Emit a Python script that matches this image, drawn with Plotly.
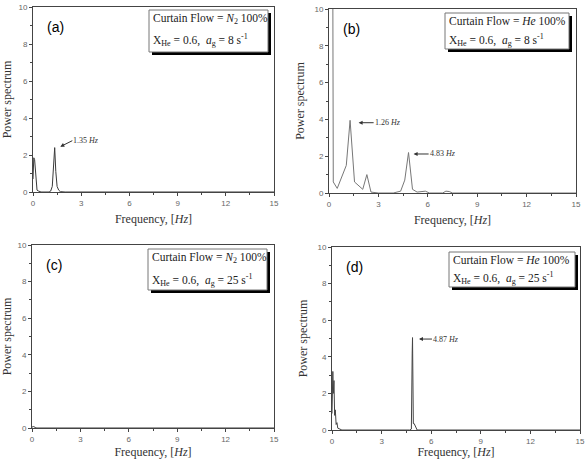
import plotly.graph_objects as go

W, H = 587, 459

# ---- data ----
a_freq = [0.0, 0.05, 0.1, 0.15, 0.2, 0.25, 0.35, 0.5, 1.0, 1.1, 1.2, 1.28, 1.35, 1.42, 1.5, 1.6, 1.7, 2.0, 15.0]
a_power = [0.7, 1.85, 1.75, 1.2, 0.5, 0.1, 0.05, 0.0, 0.0, 0.05, 0.3, 1.2, 2.4, 1.1, 0.3, 0.1, 0.02, 0.0, 0.0]

b_freq = [0.23, 0.24, 0.26, 0.5, 1.05, 1.28, 1.55, 2.05, 2.3, 2.55, 3.0, 3.9, 4.35, 4.6, 4.83, 5.07, 5.35, 5.85, 6.1, 6.9, 7.1, 7.3, 7.5, 15.0]
b_power = [12.0, 0.6, 0.6, 0.25, 1.5, 3.95, 0.6, 0.2, 1.0, 0.05, 0.0, 0.0, 0.1, 0.7, 2.2, 0.2, 0.05, 0.1, 0.0, 0.0, 0.1, 0.08, 0.0, 0.0]

c_freq = [0.0, 0.1, 0.2, 0.3, 15.0]
c_power = [0.05, 0.08, 0.03, 0.0, 0.0]

d_freq = [0.0, 0.05, 0.08, 0.12, 0.16, 0.2, 0.25, 0.3, 0.35, 0.45, 0.6, 4.7, 4.8, 4.85, 4.87, 4.92, 4.97, 5.15, 15.0]
d_power = [0.9, 3.2, 2.0, 2.7, 0.8, 1.1, 0.3, 0.4, 0.1, 0.05, 0.0, 0.0, 0.05, 4.2, 5.05, 0.35, 0.35, 0.0, 0.0]

x_ticks = [0, 3, 6, 9, 12, 15]
y_ticks = [0, 2, 4, 6, 8, 10]

panels = ["(a)", "(b)", "(c)", "(d)"]
curtain = ["<i>N</i><sub>2</sub>", "<i>He</i>", "<i>N</i><sub>2</sub>", "<i>He</i>"]
strain = ["8", "8", "25", "25"]

# plot-area pixel boxes (left, right, top, bottom)
boxes = [(33, 274, 7, 192), (329, 576, 9, 193), (32, 274, 245, 428), (332, 580, 247, 430)]
info_boxes = [(149, 268, 10, 52), (445, 569, 13, 49), (148, 267, 249, 290), (449, 575, 252, 287)]
line_ys = [(19, 40), (21, 40), (258, 280), (260, 278)]
line_colors = ["#3a3a3a", "#777777", "#3a3a3a", "#444444"]

series = [(a_freq, a_power), (b_freq, b_power), (c_freq, c_power), (d_freq, d_power)]

def px(x):
    return x / W

def py(y):
    return 1 - y / H

fig = go.Figure()
layout = dict(
    width=W, height=H, autosize=False,
    margin=dict(l=0, r=0, t=0, b=0),
    paper_bgcolor="white", plot_bgcolor="white",
    showlegend=False,
)

serif = "Liberation Serif, Times New Roman, serif"
sans = "Liberation Sans, Arial, sans-serif"

shapes = []
annotations = []

for i, ((xs, ys), (l, r, t, b)) in enumerate(zip(series, boxes)):
    n = "" if i == 0 else str(i + 1)
    fig.add_trace(go.Scatter(x=xs, y=ys, mode="lines",
                             line=dict(color=line_colors[i], width=1),
                             xaxis="x" + n, yaxis="y" + n, cliponaxis=True))
    axis_common = dict(
        showgrid=False, zeroline=False, showline=True, linecolor="#444444", linewidth=1,
        mirror=True, ticks="outside", ticklen=3, tickcolor="#444444",
        tickfont=dict(family=sans, size=8, color="#666666"), automargin=False,
    )
    layout["xaxis" + n] = dict(
        axis_common, domain=[px(l), px(r)], range=[0, 15], tickvals=x_ticks,
        minor=dict(tickvals=[1.5, 4.5, 7.5, 10.5, 13.5], ticklen=2, ticks="outside", tickcolor="#444444"),
        anchor="y" + n,
        title=dict(text="Frequency, [<i>Hz</i>]", font=dict(family=serif, size=12, color="#333333"), standoff=8),
    )
    layout["yaxis" + n] = dict(
        axis_common, domain=[py(b), py(t)], range=[0, 10], tickvals=y_ticks,
        minor=dict(tickvals=[1, 3, 5, 7, 9], ticklen=2, ticks="outside", tickcolor="#444444"),
        anchor="x" + n,
        title=dict(text="Power spectrum", font=dict(family=serif, size=12, color="#333333"), standoff=7),
    )
    # panel label
    annotations.append(dict(text=panels[i], xref="paper", yref="paper",
                            x=px(l + 12), y=py(t + 20), xanchor="left", yanchor="middle",
                            showarrow=False, font=dict(family=sans, size=14, color="black")))
    # info box with shadow
    bl, br, bt, bb = info_boxes[i]
    shapes.append(dict(type="rect", xref="paper", yref="paper",
                       x0=px(bl + 3), x1=px(br + 3), y0=py(bb + 3), y1=py(bt + 3),
                       fillcolor="black", line=dict(width=0), layer="above"))
    shapes.append(dict(type="rect", xref="paper", yref="paper",
                       x0=px(bl), x1=px(br), y0=py(bb), y1=py(bt),
                       fillcolor="white", line=dict(color="#777777", width=1), layer="above"))
    y1, y2 = line_ys[i]
    annotations.append(dict(text="Curtain Flow = " + curtain[i] + " 100%",
                            xref="paper", yref="paper", x=px(bl + 2), y=py(y1),
                            xanchor="left", yanchor="middle", showarrow=False,
                            font=dict(family=serif, size=11.5, color="#222222")))
    annotations.append(dict(text="X<sub>He</sub> = 0.6,  <i>a</i><sub>g</sub> = " + strain[i] + " s<sup>-1</sup>",
                            xref="paper", yref="paper", x=px(bl + 2), y=py(y2),
                            xanchor="left", yanchor="middle", showarrow=False,
                            font=dict(family=serif, size=11.5, color="#222222")))

# peak annotations with arrows
peak_notes = [
    ("", 1.7, 2.45, "1.35 <i>Hz</i>", 12, -6),
    ("2", 1.8, 3.82, "1.26 <i>Hz</i>", 15, 0),
    ("2", 5.14, 2.12, "4.83 <i>Hz</i>", 15, 0),
    ("4", 5.26, 4.97, "4.87 <i>Hz</i>", 13, 0),
]
for n, x, y, txt, ax, ay in peak_notes:
    annotations.append(dict(text=txt, xref="x" + n, yref="y" + n, x=x, y=y,
                            ax=ax, ay=ay, xanchor="left", yanchor="middle",
                            showarrow=True, arrowhead=2, arrowsize=0.8, arrowwidth=1,
                            arrowcolor="#333333", standoff=0, borderpad=0,
                            font=dict(family=serif, size=8, color="#333333")))

layout["shapes"] = shapes
layout["annotations"] = annotations
fig.update_layout(**layout)
fig.write_html("out.html")
